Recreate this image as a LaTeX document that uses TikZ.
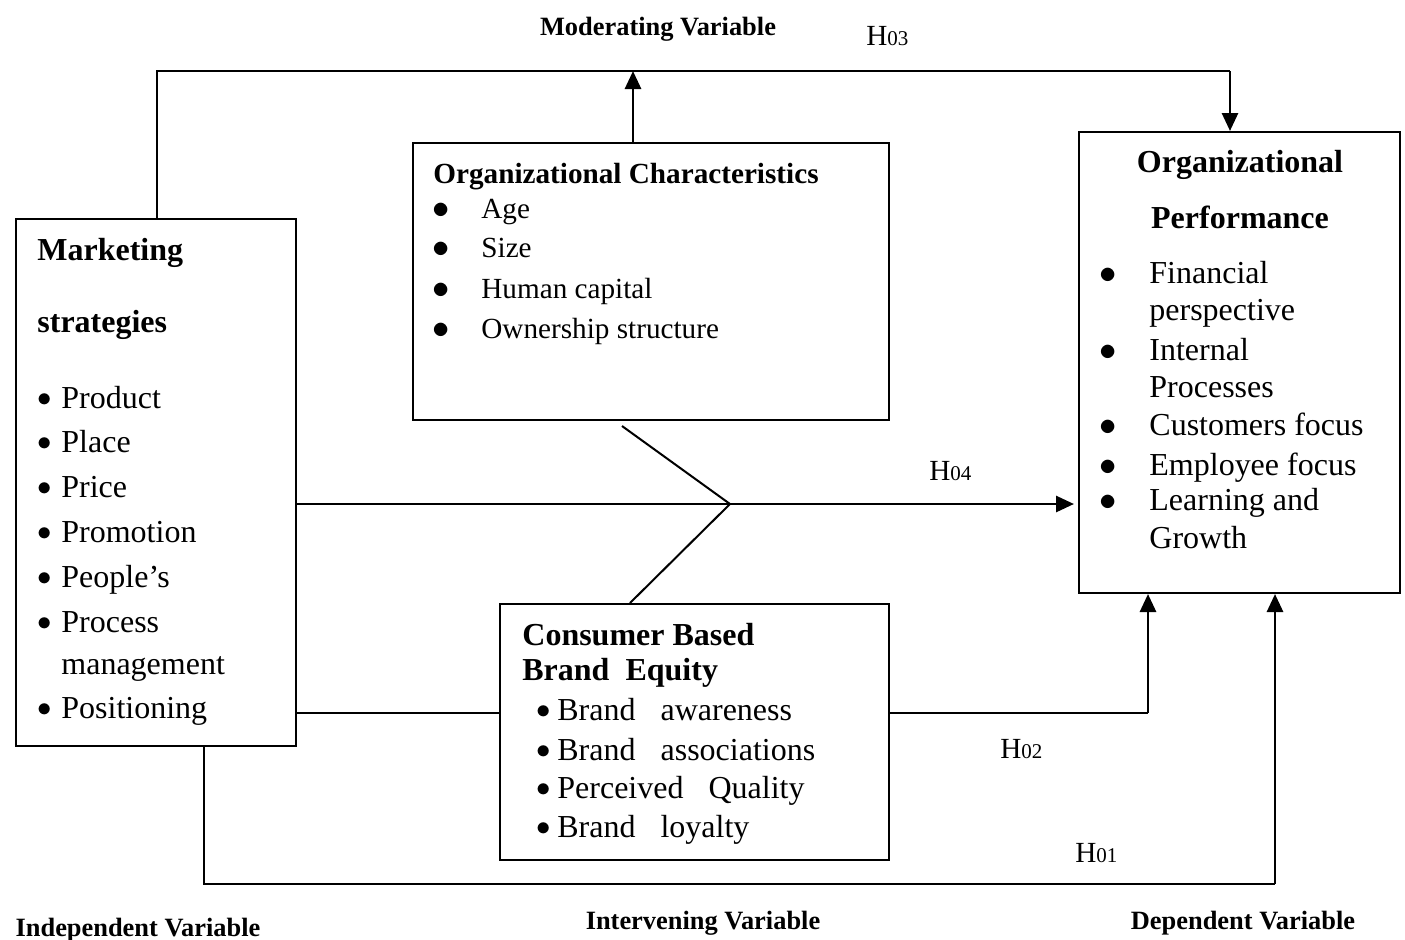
\documentclass[tikz,border=0pt]{standalone}
\usepackage{fontspec}
\setmainfont{Liberation Serif}
\usetikzlibrary{arrows.meta}
\newcommand{\hyp}[1]{H{\fontsize{10.5}{12}\selectfont #1}}

\begin{document}
\begin{tikzpicture}[x=0.5pt,y=-0.5pt,
    box/.style={draw,line width=1pt,inner sep=0pt},
    arr/.style={-{Triangle[width=8pt,length=9pt]},line width=1.4pt},
    thinln/.style={line width=0.75pt},
    midln/.style={line width=1pt},
    txt/.style={anchor=base west,inner sep=0pt,font=\fontsize{16}{19}\selectfont},
    small/.style={anchor=base west,inner sep=0pt,font=\fontsize{14.6}{17}\selectfont},
    bul/.style={anchor=base,inner sep=0pt,font=\fontsize{14.5}{16}\selectfont},
    bigbul/.style={anchor=base,inner sep=0pt,font=\fontsize{16}{18}\selectfont},
    head/.style={anchor=base west,inner sep=0pt,font=\fontsize{16}{19}\selectfont\bfseries},
    var/.style={anchor=base,inner sep=0pt,font=\fontsize{13.2}{16}\selectfont\bfseries}]
    \useasboundingbox (0,0) rectangle (1405,939);

    % boxes
    \node[box,minimum width=140pt,minimum height=263.5pt] (mkt) at (156,482.5) {};
    \node[box,minimum width=238pt,minimum height=138.5pt] (orgc) at (651,281.5) {};
    \node[box,minimum width=160.5pt,minimum height=230.5pt] (perf) at (1239.5,362.5) {};
    \node[box,minimum width=194.5pt,minimum height=128pt] (cbbe) at (694.5,732) {};

    % marketing strategies
    \node[head] (mkt-h1) at (37,260) {Marketing};
    \node[head] (mkt-h2) at (37,332) {strategies};
    \foreach \y/\t [count=\i] in {408/Product,452/Place,497/Price,542/Promotion,587/People’s,632/Process,718/Positioning} {
        \node[bul] (mkt-b\i) at (45,\y-2) {$\bullet$};
        \node[txt] (mkt-\i) at (61,\y) {\t};
    }
    \node[txt] (mkt-8) at (61,674) {management};

    % organizational characteristics
    \node[head,font=\fontsize{14.6}{17}\selectfont\bfseries] (orgc-h) at (433,183) {Organizational Characteristics};
    \foreach \y/\t [count=\i] in {218/Age,257/Size,298/Human capital,338/Ownership structure} {
        \node[bigbul] (orgc-b\i) at (441,\y) {$\bullet$};
        \node[small] (orgc-\i) at (481,\y) {\t};
    }

    % organizational performance
    \node[head,anchor=base] (perf-h1) at (1240,172) {Organizational};
    \node[head,anchor=base] (perf-h2) at (1240,228) {Performance};
    \foreach \y in {283,360,435,475,510}
        \node[bigbul] (perf-b\y) at (1108,\y) {$\bullet$};
    \foreach \y/\t [count=\i] in {283/Financial,320/perspective,360/Internal,397/Processes,435/Customers focus,475/Employee focus,510/Learning and,548/Growth}
        \node[txt] (perf-\i) at (1149,\y) {\t};

    % consumer based brand equity
    \node[head] (cbbe-h1) at (522,645) {Consumer Based};
    \node[head] (cbbe-h2) at (522,680) {Brand\ \ Equity};
    \foreach \y/\t [count=\i] in {720/Brand\hspace{12.5pt}awareness,760/Brand\hspace{12.5pt}associations,798/Perceived\hspace{12.5pt}Quality,837/Brand\hspace{12.5pt}loyalty} {
        \node[bul] (cbbe-b\i) at (544,\y-2) {$\bullet$};
        \node[txt] (cbbe-\i) at (557,\y) {\t};
    }

    % connectors
    \coordinate (tl) at (157,71);
    \coordinate (tr) at (1230,71);
    \coordinate (modr) at (633,71);
    \coordinate (jn) at (730,504);
    \coordinate (fa) at (622,426);
    \coordinate (fb) at (630,604);
    \coordinate (pb) at (1148,713);
    \coordinate (bl) at (204,884);
    \coordinate (br) at (1275,884);

    \draw[thinln] (mkt.north -| tl) -- (tl) -- (tr);
    \draw[arr] (tr) -- (perf.north -| tr);
    \draw[arr] (orgc.north -| modr) -- (modr);
    \draw[arr,shorten >=2pt] (mkt.east |- jn) -- (perf.west |- jn);
    \draw[midln] (fa) -- (jn) -- (cbbe.north -| fb);
    \draw[midln] (mkt.east |- pb) -- (cbbe.west |- pb);
    \draw[midln] (cbbe.east |- pb) -- (pb);
    \draw[arr] (pb) -- (perf.south -| pb);
    \draw[midln] (mkt.south -| bl) -- (bl) -- (br);
    \draw[arr] (br) -- (perf.south -| br);

    % labels
    \node[var] (lab-mod) at (658,35) {Moderating Variable};
    \node[var] (lab-ind) at (138,936) {Independent Variable};
    \node[var] (lab-int) at (703,929) {Intervening Variable};
    \node[var] (lab-dep) at (1243,929) {Dependent Variable};
    \node[small] (h03) at (866,45) {\hyp{03}};
    \node[small] (h04) at (929,480) {\hyp{04}};
    \node[small] (h02) at (1000,758) {\hyp{02}};
    \node[small] (h01) at (1075,862) {\hyp{01}};
\end{tikzpicture}
\end{document}
